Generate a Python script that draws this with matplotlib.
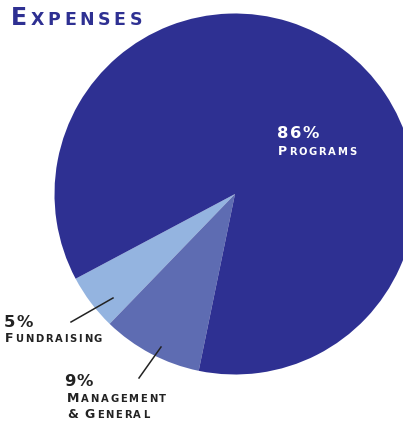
import matplotlib
matplotlib.use('Agg')
import matplotlib.pyplot as plt
from matplotlib.font_manager import findfont, FontProperties
from matplotlib.ft2font import FT2Font

# data
categories = ['Fundraising', 'Management & General', 'Programs']
shares = [5, 9, 86]
colors = ['#94b4e0', '#5e6cb2', '#2e3092']
pct_labels = ['5%', '9%', '86%']

W, H = 403, 424
fig = plt.figure(figsize=(W / 100, H / 100), dpi=100)
ax = fig.add_axes([0, 0, 1, 1])

ax.pie(shares, colors=colors, startangle=208, counterclock=True,
       center=(235, H - 194), radius=180.5,
       wedgeprops=dict(linewidth=0))
ax.set_xlim(0, W)
ax.set_ylim(0, H)
ax.set_aspect('equal')
ax.axis('off')

FAMILY = 'DejaVu Sans'
WEIGHT = 'bold'
ftfont = FT2Font(findfont(FontProperties(family=FAMILY, weight=WEIGHT)))


def advance(ch, size):
    ftfont.set_size(size, 100)
    g = ftfont.load_char(ord(ch))
    return g.linearHoriAdvance / 65536


def spaced(x, y, text, size, color, track=0.0):
    """draw text char by char from pixel pos (x, y from top), return end x"""
    for ch in text:
        if ch != ' ':
            ax.text(x, H - y, ch, fontsize=size, color=color, weight=WEIGHT,
                    ha='left', va='baseline', family=FAMILY)
        x += advance(ch, size) + track
    return x


def smallcaps(x, y, text, big, small, color, track=0.0):
    for ch in text:
        if ch.isupper() or ch == '&':
            x = spaced(x, y, ch, big, color, track)
        else:
            x = spaced(x, y, ch.upper(), small, color, track)
    return x


navy = '#2e3092'
dark = '#222222'
smallcaps(11, 25, 'Expenses', 17, 12.5, navy, track=3.6)

spaced(277, 138, pct_labels[2], 11.8, 'white', track=1.2)
smallcaps(278, 155, categories[2], 9, 7.2, 'white', track=1.7)

spaced(4, 327, pct_labels[0], 11.8, dark, track=1.2)
smallcaps(5, 342, categories[0], 9, 7.2, dark, track=1.7)

spaced(64, 386, pct_labels[1], 11.8, dark, track=1.2)
smallcaps(67, 402, 'Management', 9, 7.2, dark, track=1.7)
smallcaps(67, 418, '& General', 9, 7.2, dark, track=1.7)

# leader lines
ax.plot([71, 113], [H - 322, H - 298], color=dark, lw=1.1)
ax.plot([139, 161], [H - 378, H - 347], color=dark, lw=1.1)

fig.savefig('out.png', dpi=100)
